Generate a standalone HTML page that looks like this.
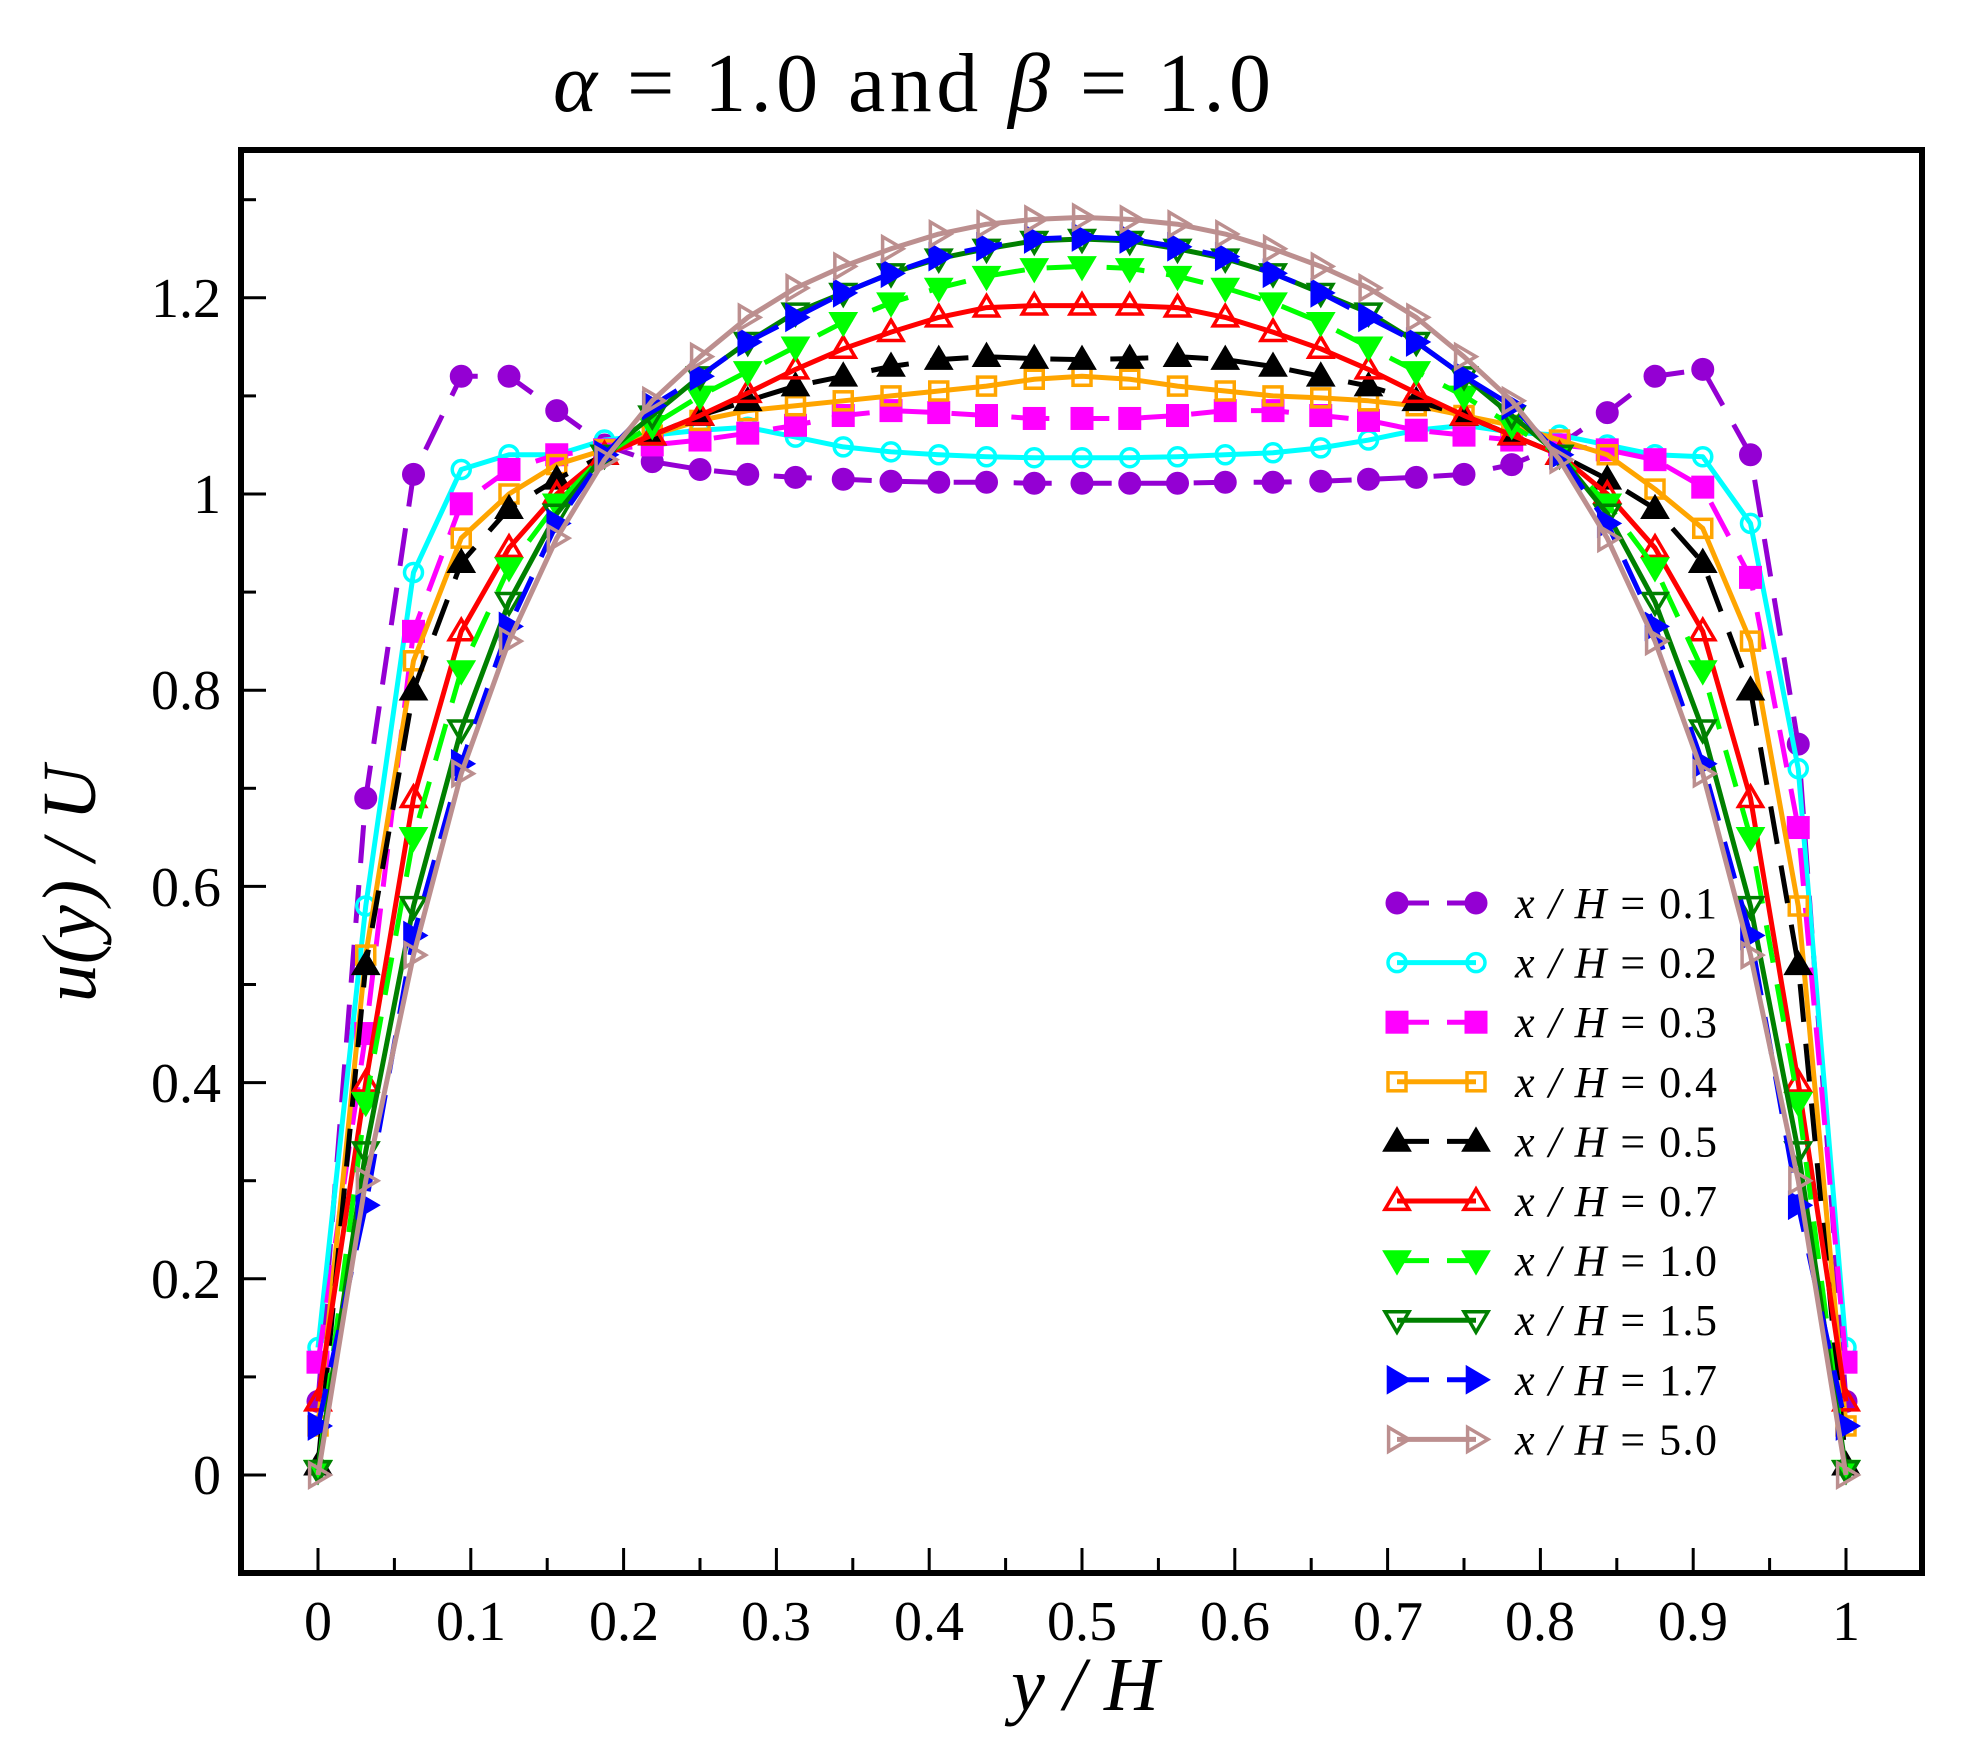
<!DOCTYPE html>
<html><head><meta charset="utf-8"><style>
html,body{margin:0;padding:0;background:#fff;}
svg{display:block;font-family:"Liberation Serif",serif;}
</style></head><body>
<svg id="s" width="1970" height="1752" viewBox="0 0 1970 1752" xmlns="http://www.w3.org/2000/svg">
<rect width="1970" height="1752" fill="#fff"/>
<text x="553" y="111" font-size="84" textLength="718" lengthAdjust="spacing"><tspan font-style="italic">α</tspan> = 1.0 and <tspan font-style="italic">β</tspan> = 1.0</text>
<g id="curves"></g>
<g id="ticks" stroke="#000" stroke-width="3"></g>
<rect x="241" y="150" width="1681" height="1423" fill="none" stroke="#000" stroke-width="6"/>
<g font-size="56" text-anchor="end">
<text x="221" y="1494">0</text>
<text x="221" y="1298">0.2</text>
<text x="221" y="1102">0.4</text>
<text x="221" y="906">0.6</text>
<text x="221" y="709">0.8</text>
<text x="221" y="513">1</text>
<text x="221" y="317">1.2</text>
</g>
<g font-size="56" text-anchor="middle">
<text x="318" y="1640">0</text>
<text x="471" y="1640">0.1</text>
<text x="624" y="1640">0.2</text>
<text x="776" y="1640">0.3</text>
<text x="929" y="1640">0.4</text>
<text x="1082" y="1640">0.5</text>
<text x="1235" y="1640">0.6</text>
<text x="1388" y="1640">0.7</text>
<text x="1540" y="1640">0.8</text>
<text x="1693" y="1640">0.9</text>
<text x="1846" y="1640">1</text>
</g>
<text x="1085" y="1710" font-size="76" text-anchor="middle" font-style="italic">y / H</text>
<text transform="translate(95,884) rotate(-90)" font-size="76" text-anchor="middle" font-style="italic">u(y) / U</text>
<g id="legend"></g>
</svg>
<script>
const NS="http://www.w3.org/2000/svg";
const X=x=>318+1528*x, Y=v=>1475-981*v;
function el(t,a,p){const e=document.createElementNS(NS,t);for(const k in a)e.setAttribute(k,a[k]);p.appendChild(e);return e;}
function sym(h){const r=h.slice();for(let i=15;i>=0;i--)r.push(h[i]);return r;}
const S=[
{c:"#9400d3",d:1,m:"circle",f:1,l:"0.1",v:[0.075,0.69,1.02,1.12,1.12,1.085,1.05,1.033,1.025,1.02,1.017,1.015,1.013,1.012,1.012,1.011,1.011,1.011,1.011,1.012,1.012,1.013,1.015,1.017,1.02,1.03,1.05,1.083,1.12,1.127,1.04,0.745,0.075]},
{c:"#00ffff",d:0,m:"circle",f:0,l:"0.2",v:[0.13,0.58,0.92,1.025,1.04,1.04,1.055,1.06,1.065,1.068,1.058,1.048,1.043,1.04,1.038,1.037,1.037,1.037,1.038,1.04,1.042,1.047,1.055,1.065,1.07,1.063,1.06,1.05,1.04,1.038,0.97,0.72,0.13]},
{c:"#ff00ff",d:1,m:"square",f:1,l:"0.3",v:[0.115,0.45,0.86,0.99,1.025,1.04,1.045,1.05,1.055,1.062,1.07,1.08,1.085,1.083,1.08,1.077,1.077,1.077,1.08,1.085,1.085,1.08,1.075,1.065,1.06,1.055,1.05,1.045,1.035,1.007,0.915,0.66,0.115]},
{c:"#ffa500",d:0,m:"square",f:0,l:"0.4",v:[0.05,0.53,0.83,0.955,1.0,1.03,1.045,1.06,1.075,1.085,1.09,1.095,1.1,1.105,1.11,1.117,1.12,1.117,1.11,1.105,1.1,1.098,1.095,1.09,1.08,1.07,1.055,1.04,1.005,0.965,0.85,0.58,0.05]},
{c:"#000000",d:1,m:"up",f:1,l:"0.5",v:sym([0.01,0.52,0.8,0.93,0.985,1.015,1.04,1.06,1.08,1.095,1.11,1.12,1.13,1.137,1.14,1.138,1.137])},
{c:"#ff0000",d:0,m:"up",f:0,l:"0.7",v:sym([0.075,0.4,0.69,0.86,0.945,1.0,1.04,1.06,1.08,1.103,1.127,1.148,1.165,1.18,1.19,1.192,1.192])},
{c:"#00ff00",d:1,m:"down",f:1,l:"1.0",v:sym([0.005,0.38,0.65,0.82,0.925,0.99,1.04,1.07,1.1,1.125,1.15,1.175,1.195,1.21,1.222,1.23,1.232])},
{c:"#008000",d:0,m:"down",f:0,l:"1.5",v:sym([0.005,0.33,0.58,0.76,0.89,0.98,1.04,1.08,1.12,1.155,1.185,1.205,1.225,1.24,1.25,1.258,1.26])},
{c:"#0000ff",d:1,m:"right",f:1,l:"1.7",v:sym([0.05,0.275,0.55,0.725,0.865,0.97,1.04,1.09,1.12,1.155,1.18,1.205,1.225,1.242,1.252,1.26,1.262])},
{c:"#bc8f8f",d:0,m:"right",f:0,l:"5.0",v:sym([0.0,0.3,0.53,0.715,0.85,0.955,1.035,1.095,1.14,1.18,1.21,1.232,1.25,1.265,1.275,1.28,1.282])}
];
function marker(g,type,x,y,c,f){
 const a={fill:f?c:"#fff","fill-opacity":f?1:0,stroke:c,"stroke-width":f?1:3.5};
 if(type=="circle")el("circle",Object.assign({cx:x,cy:y,r:f?11:9},a),g);
 else if(type=="square"){const s=f?11:9;el("rect",Object.assign({x:x-s,y:y-s,width:2*s,height:2*s},a),g);}
 else{const r=f?14:12;let p;
  if(type=="up")p=[[x,y-r],[x-r,y+r*0.7],[x+r,y+r*0.7]];
  else if(type=="down")p=[[x,y+r],[x-r,y-r*0.7],[x+r,y-r*0.7]];
  else p=[[x+r,y],[x-r*0.7,y-r],[x-r*0.7,y+r]];
  el("polygon",Object.assign({points:p.map(q=>q.join(",")).join(" ")},a),g);}
}
const cg=document.getElementById("curves");
S.forEach(s=>{
 const pts=s.v.map((v,i)=>[X(i/32),Y(v)]);
 el("polyline",{points:pts.map(p=>p.join(",")).join(" "),fill:"none",stroke:s.c,"stroke-width":5,"stroke-dasharray":s.d?"38,22":"none","stroke-linejoin":"round"},cg);
 pts.forEach(p=>marker(cg,s.m,p[0],p[1],s.c,s.f));
});
const tg=document.getElementById("ticks");
for(let k=0;k<=20;k++){const x=X(k*0.05),L=k%2?15:25;
 el("line",{x1:x,y1:1573,x2:x,y2:1573-L},tg);}
for(let k=-1;k<=13;k++){const y=Y(k*0.1),L=k%2?15:25;
 el("line",{x1:241,y1:y,x2:241+L,y2:y},tg);}
const lg=document.getElementById("legend");
S.forEach((s,i)=>{const y=903+59.6*i;
 el("line",{x1:1397,y1:y,x2:1476,y2:y,stroke:s.c,"stroke-width":5,"stroke-dasharray":s.d?"32,18,40":"none"},lg);
 marker(lg,s.m,1397,y,s.c,s.f);marker(lg,s.m,1476,y,s.c,s.f);
});
const labels=["0.1","0.2","0.3","0.4","0.5","0.7","1.0","1.5","1.7","5.0"];
labels.forEach((l,i)=>{const t=el("text",{x:1515,y:903+59.6*i+15,"font-size":44,textLength:202,lengthAdjust:"spacing"},lg);
 t.innerHTML='<tspan font-style="italic">x / H</tspan> = '+l;});
</script>
</body></html>
